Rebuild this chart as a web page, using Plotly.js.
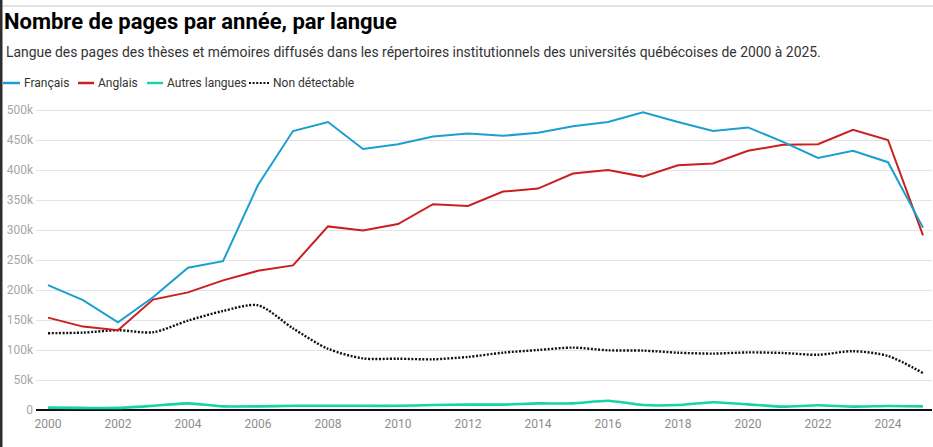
<!DOCTYPE html>
<html lang="fr">
<head>
<meta charset="utf-8">
<title>Nombre de pages par année, par langue</title>
<script src="https://cdn.plot.ly/plotly-3.0.1.min.js"></script>
<style>
  html, body { margin: 0; padding: 0; background: #ffffff; }
  #chart { width: 933px; height: 447px; }
</style>
</head>
<body>
<div id="chart"></div>
<script>
// Années couvertes
const years = [2000, 2001, 2002, 2003, 2004, 2005, 2006, 2007, 2008, 2009, 2010, 2011, 2012,
               2013, 2014, 2015, 2016, 2017, 2018, 2019, 2020, 2021, 2022, 2023, 2024, 2025];

// Nombre de pages par langue détectée
const francais = [208000, 183000, 146000, 188000, 237000, 248000, 375000, 465000, 480000, 435000,
                  443000, 456000, 461000, 457000, 462000, 473000, 480000, 496000, 480000, 465000,
                  471000, 447000, 420000, 432000, 413000, 304000];
const anglais = [154000, 139000, 133000, 184000, 196000, 216000, 232000, 241000, 306000, 299000,
                 310000, 343000, 340000, 364000, 369000, 394000, 400000, 389000, 408000, 411000,
                 432000, 442000, 443000, 467000, 450000, 291000];
const autres = [3900, 3500, 3500, 7000, 11000, 6000, 6000, 7000, 7000, 7000,
                7000, 8300, 9000, 9000, 11000, 11000, 15500, 8300, 8300, 13000,
                9400, 5600, 7800, 5600, 6700, 6100];
const nonDetectable = [128000, 129000, 133000, 129500, 149000, 165000, 174500, 136000, 102000, 86000,
                       85500, 84500, 88500, 95500, 100000, 104000, 99500, 99000, 95500, 94000,
                       96000, 95000, 92000, 98000, 90000, 61500];

// Graduations de l'axe vertical
const yTickVals = [0, 50000, 100000, 150000, 200000, 250000, 300000, 350000, 400000, 450000, 500000];
const yTickText = ['0', '50k', '100k', '150k', '200k', '250k', '300k', '350k', '400k', '450k', '500k'];
const xTickVals = [2000, 2002, 2004, 2006, 2008, 2010, 2012, 2014, 2016, 2018, 2020, 2022, 2024];

// Légende
const seriesNames = ['Français', 'Anglais', 'Autres langues', 'Non détectable'];
const seriesColors = ['#1a9fcf', '#c91f1f', '#17d4a3', '#111111'];

// Mise en page (en pixels)
const W = 933, H = 447;
const M = { l: 36, r: 1, t: 104, b: 37 };
const plotW = W - M.l - M.r, plotH = H - M.t - M.b;
const px2x = px => (px - M.l) / plotW;
const px2y = py => (H - M.b - py) / plotH;

const FONT = 'Roboto, "Noto Sans", Arial, sans-serif';
const DOTS = '2px,1.6px';

const seriesValues = [francais, anglais, autres, nonDetectable];
const lineStyles = [
  { width: 2, shape: 'linear' },
  { width: 2, shape: 'linear' },
  { width: 2.6, shape: 'spline', smoothing: 0.6 },
  { width: 2.4, shape: 'spline', smoothing: 0.8, dash: DOTS }
];
// Ordre de tracé : les séries secondaires en dessous
const drawOrder = [2, 3, 1, 0];
const traces = drawOrder.map(i => ({
  type: 'scatter',
  mode: 'lines',
  name: seriesNames[i],
  x: years,
  y: seriesValues[i],
  line: Object.assign({ color: seriesColors[i] }, lineStyles[i]),
  hoverinfo: 'skip',
  cliponaxis: false
}));

// Position des entrées de légende : [début du trait, fin du trait, début du texte]
const legendX = [[3, 20, 22], [78, 94, 96], [147, 163, 165], [249, 269, 271]];
const legendY = 83;

const shapes = [
  // Cadre : filet gris en haut et bande sombre à gauche
  { type: 'line', xref: 'paper', yref: 'paper', x0: px2x(3), x1: px2x(W), y0: px2y(6), y1: px2y(6),
    line: { color: '#e3e3e3', width: 2 }, layer: 'above' },
  { type: 'rect', xref: 'paper', yref: 'paper', x0: px2x(0), x1: px2x(2.5), y0: px2y(0), y1: px2y(H),
    fillcolor: '#2e2e2e', line: { width: 0 }, layer: 'above' }
];
const annotations = [
  { text: 'Langue des pages des thèses et mémoires diffusés dans les répertoires institutionnels des universités québécoises de 2000 à 2025.',
    xref: 'paper', yref: 'paper', x: px2x(4), y: px2y(52), xanchor: 'left', yanchor: 'middle',
    showarrow: false, font: { family: FONT, size: 13.9, color: '#333333' } }
];
seriesNames.forEach((name, i) => {
  const [a, b, t] = legendX[i];
  shapes.push({ type: 'line', xref: 'paper', yref: 'paper', x0: px2x(a), x1: px2x(b),
    y0: px2y(legendY), y1: px2y(legendY),
    line: { color: seriesColors[i], width: i === 3 ? 2.2 : 2.5, dash: i === 3 ? DOTS : 'solid' } });
  annotations.push({ text: name, xref: 'paper', yref: 'paper', x: px2x(t), y: px2y(legendY),
    xanchor: 'left', yanchor: 'middle', showarrow: false,
    font: { family: FONT, size: 12, color: '#333333' } });
});

const layout = {
  width: W, height: H,
  margin: M,
  paper_bgcolor: '#ffffff', plot_bgcolor: '#ffffff',
  showlegend: false,
  font: { family: FONT },
  title: {
    text: 'Nombre de pages par année, par langue',
    font: { family: FONT, size: 22, color: '#000000', weight: 700 },
    xref: 'container', yref: 'container',
    x: 4 / W, xanchor: 'left',
    y: 1 - 21 / H, yanchor: 'middle'
  },
  xaxis: {
    range: [2000 - 12 / 35, 2000 + 884 / 35],
    tickmode: 'array', tickvals: xTickVals,
    showgrid: false, zeroline: false, showline: false,
    ticks: '', ticklabelstandoff: 5,
    tickfont: { family: FONT, size: 12, color: '#8c8c8c' },
    fixedrange: true
  },
  yaxis: {
    range: [0, 510000],
    tickmode: 'array', tickvals: yTickVals, ticktext: yTickText,
    showgrid: true, gridcolor: '#e4e4e4', gridwidth: 1,
    zeroline: true, zerolinecolor: '#111111', zerolinewidth: 1.5,
    showline: false, ticks: '', ticklabelstandoff: 2,
    tickfont: { family: FONT, size: 12, color: '#a6a6a6' },
    fixedrange: true
  },
  shapes: shapes,
  annotations: annotations
};

Plotly.newPlot('chart', traces, layout, { displayModeBar: false, staticPlot: true });
</script>
</body>
</html>
